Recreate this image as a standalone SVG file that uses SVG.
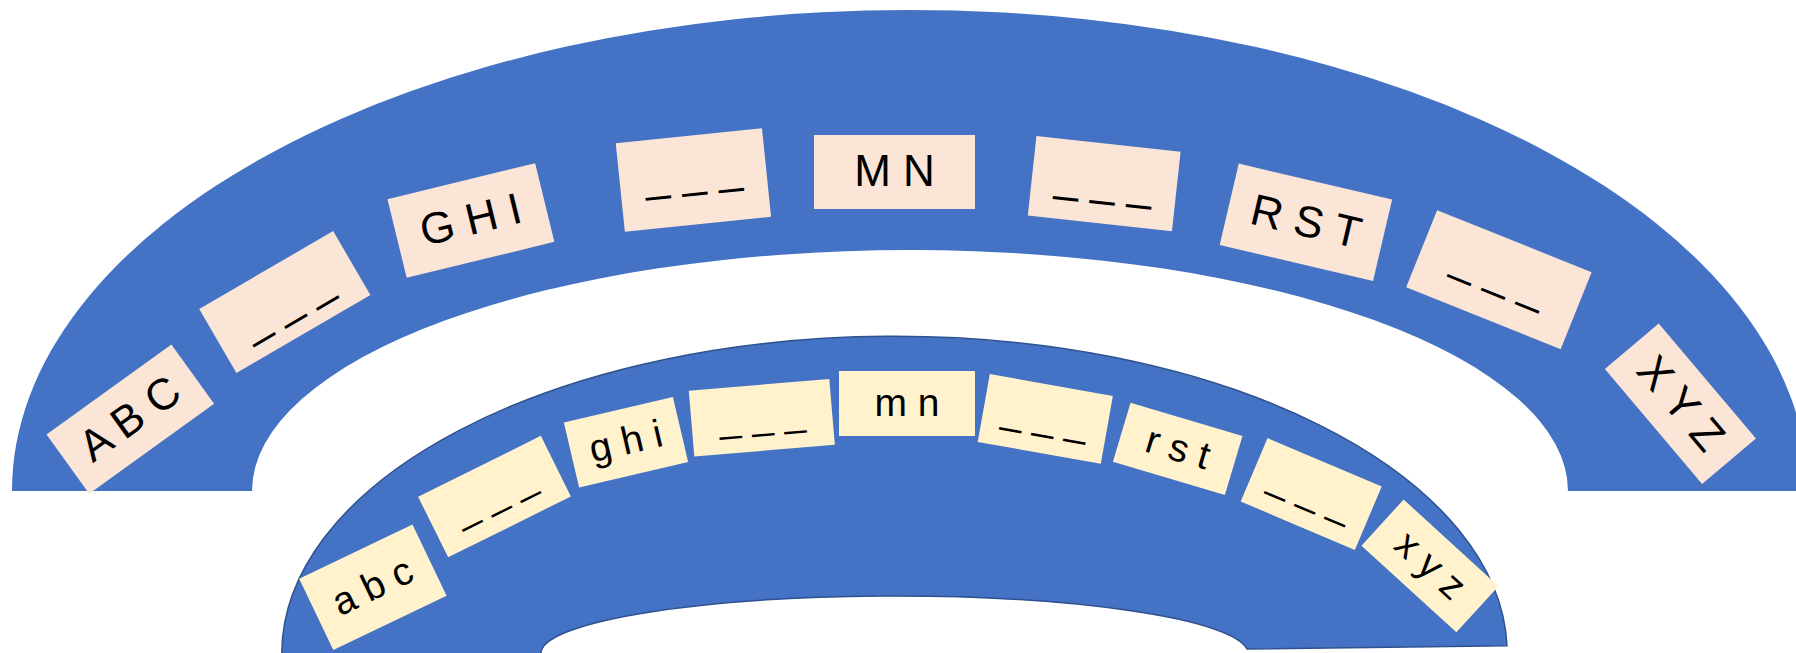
<svg xmlns="http://www.w3.org/2000/svg" width="1796" height="653" viewBox="0 0 1796 653">
<style>
.arc{fill:#4472C4}
.arc2{fill:#4472C4;stroke:#2F528F;stroke-width:1.5}
.up rect{fill:#FBE5D6}
.lo rect{fill:#FFF2CC}
text{font-family:"Liberation Sans",Arial,sans-serif;fill:#000;text-anchor:middle}
.up text{font-size:44px}
.lo text{font-size:39px}
</style>
<rect width="1796" height="653" fill="#fff"/>
<g id="outer-arch"><path class="arc" d="M12,491 A898,481 0 0 1 1808,491 L1568,491 A658,241 0 0 0 252,491 Z"/></g>
<g id="inner-arch"><path class="arc2" d="M281.8,680 L281.8,653.5 A612.7,317.5 0 0 1 1507,645.7 L1247,649 A353.6,57.5 0 0 0 540.9,653.5 L540.9,680 Z"/></g>
<g id="connectors"></g>
<g id="n-ABC" class="up" transform="translate(130.3,419.1) rotate(-35.8)"><rect x="-77" y="-36.5" width="154" height="73"/><text y="14">A B C</text></g>
<g id="n-up2" class="up" transform="translate(284.8,302) rotate(-30.2)"><rect x="-77.5" y="-37" width="155" height="74"/><text y="15">_ _ _</text></g>
<g id="n-GHI" class="up" transform="translate(470.9,220.5) rotate(-13.7)"><rect x="-76" y="-40.5" width="152" height="81"/><text y="14">G H I</text></g>
<g id="n-up4" class="up" transform="translate(693.4,180) rotate(-5.9)"><rect x="-73.5" y="-44.5" width="147" height="89"/><text y="7">_ _ _</text></g>
<g id="n-MN" class="up" transform="translate(894.5,172)"><rect x="-80.5" y="-37" width="161" height="74"/><text y="14">M N</text></g>
<g id="n-up6" class="up" transform="translate(1104.2,183.6) rotate(6.2)"><rect x="-72.5" y="-40" width="145" height="80"/><text y="12">_ _ _</text></g>
<g id="n-RST" class="up" transform="translate(1305.9,222.3) rotate(13.2)"><rect x="-78.75" y="-41.8" width="157.5" height="83.6"/><text y="14">R S T</text></g>
<g id="n-up8" class="up" transform="translate(1498.9,279.7) rotate(21.9)"><rect x="-83.25" y="-41.5" width="166.5" height="83"/><text y="8">_ _ _</text></g>
<g id="n-XYZ" class="up" transform="translate(1680.4,403.8) rotate(49.8)"><rect x="-75.3" y="-35.25" width="150.6" height="70.5"/><text y="14">X Y Z</text></g>
<g id="n-abc" class="lo" transform="translate(372.9,587.3) rotate(-25.6)"><rect x="-62.8" y="-39.5" width="125.6" height="79"/><text y="12">a b c</text></g>
<g id="n-lo2" class="lo" transform="translate(494.5,496.6) rotate(-26.4)"><rect x="-68.5" y="-33.8" width="137" height="67.6"/><text y="10">_ _ _</text></g>
<g id="n-ghi" class="lo" transform="translate(626,442.3) rotate(-13.2)"><rect x="-56" y="-33.35" width="112" height="66.7"/><text y="12">g h i</text></g>
<g id="n-lo4" class="lo" transform="translate(761.8,417.7) rotate(-4.8)"><rect x="-70.5" y="-33" width="141" height="66"/><text y="11">_ _ _</text></g>
<g id="n-mn" class="lo" transform="translate(907,403.5)"><rect x="-68" y="-32.5" width="136" height="65"/><text y="12">m n</text></g>
<g id="n-lo6" class="lo" transform="translate(1045.3,418.9) rotate(10.1)"><rect x="-62.5" y="-34.5" width="125" height="69"/><text y="11">_ _ _</text></g>
<g id="n-rst" class="lo" transform="translate(1177.7,448.9) rotate(16.6)"><rect x="-58.4" y="-30.8" width="116.8" height="61.6"/><text y="12">r s t</text></g>
<g id="n-lo8" class="lo" transform="translate(1311.2,494) rotate(23)"><rect x="-62" y="-34.4" width="124" height="68.8"/><text y="10">_ _ _</text></g>
<g id="n-xyz" class="lo" transform="translate(1430,565.9) rotate(42.4)"><rect x="-64.25" y="-31.25" width="128.5" height="62.5"/><text y="12">x y z</text></g>
</svg>
